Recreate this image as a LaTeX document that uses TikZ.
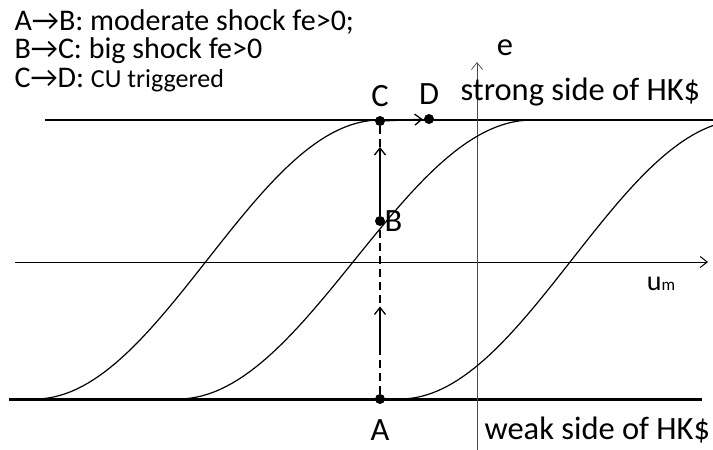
\documentclass[tikz,border=0pt]{standalone}
\usepackage{fontspec}
\setmainfont{Carlito}
\usetikzlibrary{positioning,calc,arrows.meta}

\begin{document}
\begin{tikzpicture}[x=1pt,y=-1pt,>={Straight Barb[length=7pt,width=11pt]}]
      \tikzstyle{every node}=[font=\fontsize{32.5}{36}\selectfont]
      \tikzstyle{note}=[anchor=west,font=\fontsize{30}{34}\selectfont]
      \tikzstyle{dot}=[circle,fill,inner sep=0pt,minimum size=10pt]
      \tikzstyle{curve}=[line width=1.2pt]
      \tikzstyle{move}=[->,line width=1.3pt]
      \useasboundingbox (0,0) rectangle (713,450);

      % levels
      \draw[line width=1.3pt] (45,120) -- (713,120);
      \draw[line width=3pt] (9,399) -- (702,399);
      \draw[->,line width=1pt] (15,262) -- (708,262);
      \draw[->,line width=0.7pt,gray!60!black] (477,450) -- (477,62);

      % curves
      \draw[curve,domain=35:380,samples=60] plot (\x,{399-279*(1-cos((\x-35)/345*180))/2});
      \draw[curve,domain=178:532,samples=60] plot (\x,{399-279*(1-cos((\x-178)/354*180))/2});
      \draw[curve,domain=400:713,samples=60] plot (\x,{399-279*(1-cos((\x-400)/344*180))/2});

      % points
      \node[dot] (A) at (380,399) {};
      \node[dot] (B) at (380,221) {};
      \node[dot] (C) at (380,121) {};
      \node[dot] (D) at (429,119) {};

      \draw[line width=1.3pt,dash pattern=on 8pt off 5pt] (A) -- (C);
      \draw[move] ($(A)!0.27!(B)$) -- ($(A)!0.52!(B)$);
      \draw[move] (B) -- ($(B)!0.74!(C)$);
      \draw[move,shorten >=1pt] (C) -- (D);

      % labels
      \node[above=6pt of C] (lC) {C};
      \node[above=6pt of D] (lD) {D};
      \node[right=-4pt of B] (lB) {B};
      \node[below=12pt of A] (lA) {A};
      \node[anchor=west] (strong) at (457,92) {strong side of HK\$};
      \node[anchor=west] (weak) at (481,430) {weak side of HK\$};
      \node (e) at (505,48) {e};
      \node (um) at (661,284) {\fontsize{28}{30}\selectfont u{\fontsize{17}{20}\selectfont m}};

      \node[note] (t1) at (11,22) {A→B: moderate shock fe>0;};
      \node[note] (t2) at (11,51) {B→C: big shock fe>0};
      \node[note] (t3) at (11,80) {C→D: {\fontsize{26}{30}\selectfont CU triggered}};
\end{tikzpicture}
\end{document}
